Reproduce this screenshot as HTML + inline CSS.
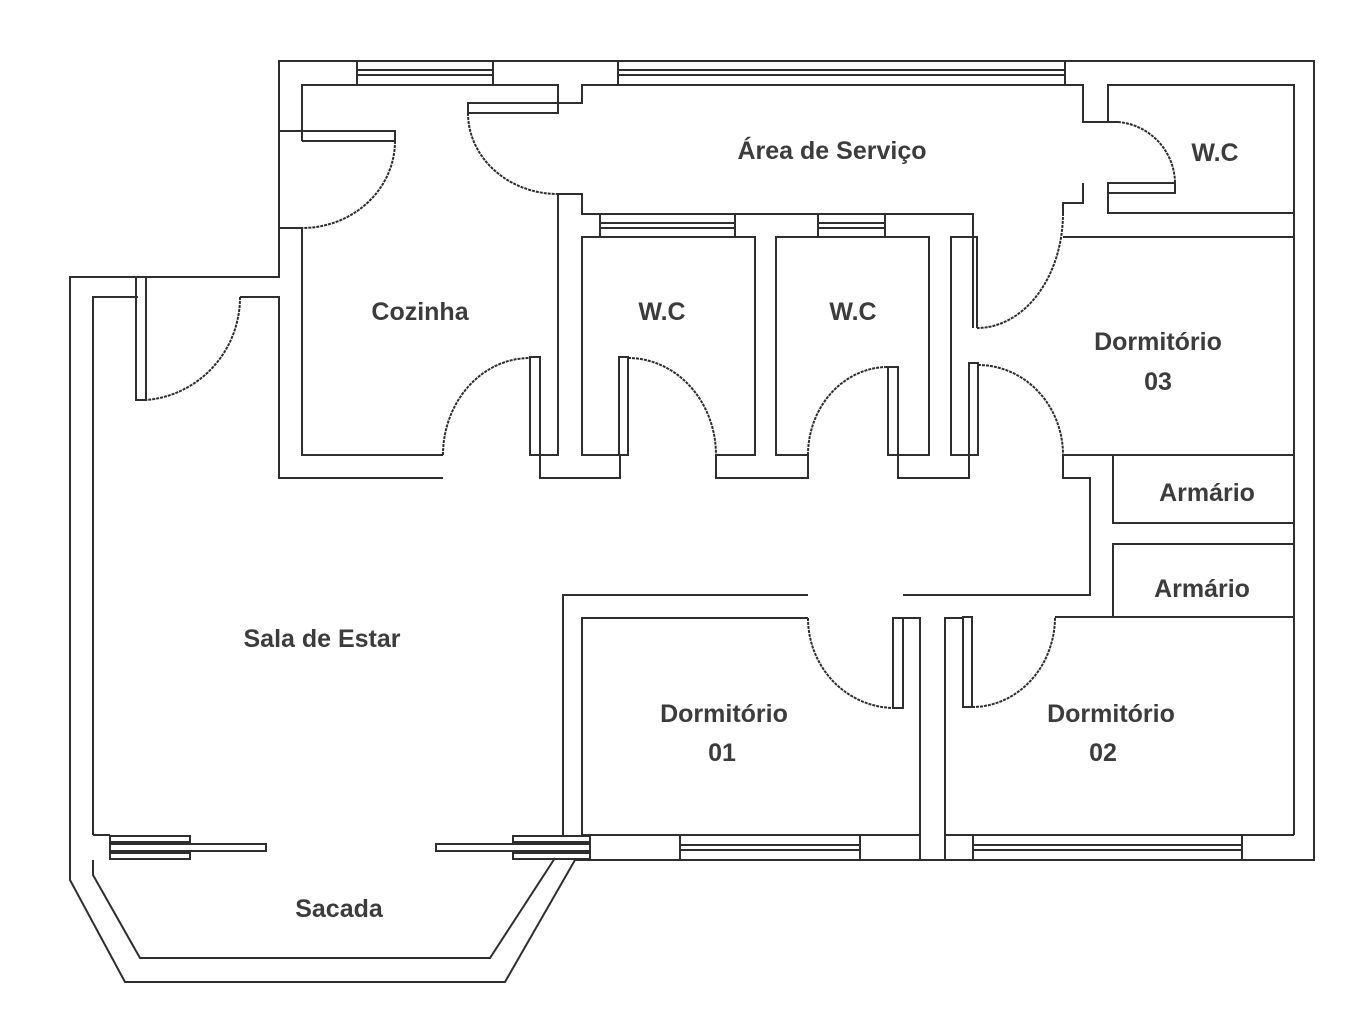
<!DOCTYPE html>
<html><head><meta charset="utf-8"><style>
html,body{margin:0;padding:0;background:#fff;}
svg{display:block;}
text{font-family:"Liberation Sans",sans-serif;font-weight:bold;font-size:25px;fill:#3c3c3c;text-anchor:middle;}
</style></head><body>
<svg width="1360" height="1035" viewBox="0 0 1360 1035" xmlns="http://www.w3.org/2000/svg">
<g fill="none" stroke="#2e2e2e" stroke-width="2">
<!-- outer boundary -->
<path d="M279,61 H1314 V860 H575 L505,982 H125 L70,880 V277 H279 Z"/>
<!-- sacada inner -->
<path d="M93,860 V875 L140,958 H490 L555,858"/>
<!-- sala inner -->
<path d="M93,835 V297 H138 M240,297 H279 V478 H443"/>
<!-- sala door -->
<rect x="136" y="277" width="10" height="123"/>
<path d="M240,297 A102,103 0 0 1 146,400" stroke-dasharray="3,1"/>
<!-- kitchen -->
<path d="M302,228 V455 H443 M302,141 V85 H558 V103 H582 V85 H1083 V122 H1118"/>
<path d="M279,131 H395 V141 H302 M279,228 H302"/>
<path d="M395,141 A93,87 0 0 1 302,228" stroke-dasharray="3,1"/>
<!-- window top 1 -->
<path d="M357,61 V85 M493,61 V85 M357,70 H493 M357,75 H493"/>
<!-- window top 2 -->
<path d="M618,61 V85 M1065,61 V85 M618,70 H1065 M618,75 H1065"/>
<!-- service door -->
<rect x="468" y="103" width="90" height="10"/>
<path d="M468,113 A90,81 0 0 0 558,194" stroke-dasharray="3,1"/>
<path d="M558,194 H582 V214 H973 V328 M558,194 V455 H540 V478 H620 V455 H582 V237 H755 V455 H716 V478 H808 V455 H776 V237 H929 V455 H898 V478 H969 V455 H951 V237 H977 V328"/>
<!-- WC windows -->
<path d="M600,214 V237 M735,214 V237 M600,223 H735 M600,228 H735"/>
<path d="M818,214 V237 M885,214 V237 M818,223 H885 M818,228 H885"/>
<!-- doors bottom row -->
<rect x="530" y="357" width="10" height="98"/>
<path d="M443,455 A87,97 0 0 1 530,358" stroke-dasharray="3,1"/>
<rect x="619" y="357" width="9" height="98"/>
<path d="M628,358 A88,97 0 0 1 716,455" stroke-dasharray="3,1"/>
<rect x="888" y="367" width="10" height="88"/>
<path d="M808,455 A80,88 0 0 1 888,367" stroke-dasharray="3,1"/>
<rect x="969" y="363" width="9" height="92"/>
<path d="M978,365 A85,90 0 0 1 1063,455" stroke-dasharray="3,1"/>
<!-- dorm03 upper door -->
<path d="M1063,213 A86,115 0 0 1 977,328" stroke-dasharray="3,1"/>
<!-- WC right -->
<path d="M1108,122 V85 H1294 V835 M1108,183 V213 H1294 M1083,183 V203 H1063 V213"/>
<rect x="1108" y="183" width="67" height="10"/>
<path d="M1118,122 A62,62 0 0 1 1175,183" stroke-dasharray="3,1"/>
<!-- dorm03 -->
<path d="M1063,237 H1294 M1063,455 H1294 M1063,455 V478 H1090 V595 H1055"/>
<!-- armarios -->
<path d="M1113,455 V523 H1294 M1113,617 V544 H1294"/>
<!-- dorm 01/02 -->
<path d="M563,835 V595 H808 M582,835 V618 H808 M903,595 H1055 M903,618 H920 V835 M945,860 V618 H963 M920,835 V860 M1055,617 H1294"/>
<rect x="893" y="618" width="10" height="90"/>
<path d="M808,618 A87,90 0 0 0 895,708" stroke-dasharray="3,1"/>
<rect x="963" y="617" width="9" height="90"/>
<path d="M972,707 A83,90 0 0 0 1055,617" stroke-dasharray="3,1"/>
<path d="M582,835 H920 M945,835 H1294"/>
<!-- bottom windows -->
<path d="M680,835 V860 M860,835 V860 M680,845 H860 M680,850 H860"/>
<path d="M973,835 V860 M1242,835 V860 M973,845 H1242 M973,850 H1242"/>
<!-- sacada windows -->
<path d="M93,835 H110"/>
<rect x="110" y="836" width="80" height="6"/>
<rect x="110" y="844" width="156" height="7"/>
<rect x="110" y="853" width="80" height="6"/>
<rect x="513" y="836" width="77" height="6"/>
<rect x="436" y="844" width="154" height="7"/>
<rect x="513" y="853" width="77" height="6"/>
</g>
<text x="832" y="159">Área de Serviço</text>
<text x="1215" y="161">W.C</text>
<text x="420" y="320">Cozinha</text>
<text x="662" y="320">W.C</text>
<text x="853" y="320">W.C</text>
<text x="1158" y="350">Dormitório</text>
<text x="1158" y="390">03</text>
<text x="1207" y="501">Armário</text>
<text x="1202" y="597">Armário</text>
<text x="322" y="647">Sala de Estar</text>
<text x="724" y="722">Dormitório</text>
<text x="722" y="761">01</text>
<text x="1111" y="722">Dormitório</text>
<text x="1103" y="761">02</text>
<text x="339" y="917">Sacada</text>
</svg>
</body></html>
